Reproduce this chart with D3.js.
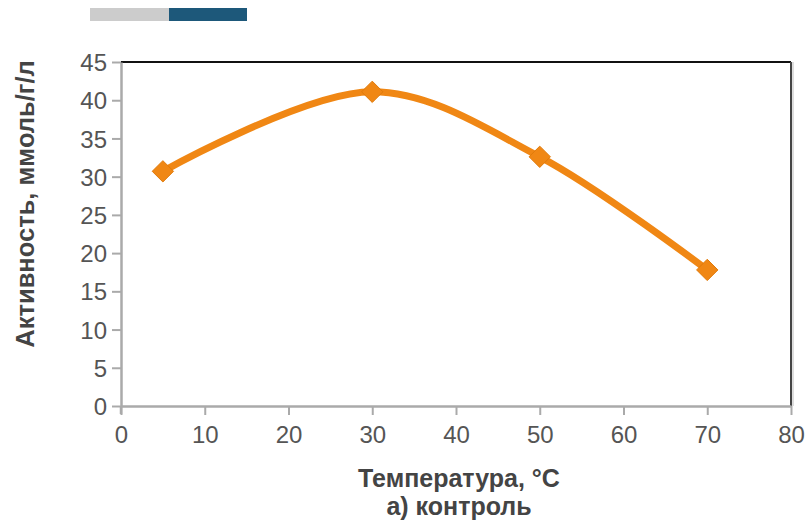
<!DOCTYPE html>
<html><head><meta charset="utf-8">
<script src="https://d3js.org/d3.v7.min.js"></script>
<style>body{margin:0;background:#fff;} svg{display:block;}</style>
</head><body>
<svg id="c" width="811" height="524"></svg>
<script>
const temps = [5, 30, 50, 70];
const activity = [30.7, 41.1, 32.6, 17.8];
const xTicks = [0, 10, 20, 30, 40, 50, 60, 70, 80];
const yTicks = [0, 5, 10, 15, 20, 25, 30, 35, 40, 45];
const xTitle = "Температура, °C";
const subTitle = "а) контроль";
const yTitle = "Активность, ммоль/г/л";

const svg = d3.select("#c");
const L = 121, R = 791, T = 62, B = 406;
const x = d3.scaleLinear().domain([0, 80]).range([L, R]);
const y = d3.scaleLinear().domain([0, 45]).range([B, T]);
const font = "'Liberation Sans', Arial, sans-serif";

// decorative top bars
svg.append("rect").attr("x", 90).attr("y", 8).attr("width", 79).attr("height", 13).attr("fill", "#cccccc");
svg.append("rect").attr("x", 169).attr("y", 8).attr("width", 78).attr("height", 13).attr("fill", "#1d587a");

// top and right borders
svg.append("line").attr("x1", L).attr("x2", R).attr("y1", T).attr("y2", T).attr("stroke", "#111").attr("stroke-width", 2);
svg.append("line").attr("x1", R).attr("x2", R).attr("y1", T).attr("y2", B).attr("stroke", "#444").attr("stroke-width", 2);
svg.append("line").attr("x1", R + 2).attr("x2", R + 2).attr("y1", T).attr("y2", B).attr("stroke", "#bbb").attr("stroke-width", 1);

// y axis
const ya = svg.append("g").attr("transform", `translate(${L},0)`)
  .call(d3.axisLeft(y).tickValues(yTicks).tickSize(9).tickPadding(5).tickSizeOuter(0));
ya.select(".domain").attr("stroke", "#aaa").attr("stroke-width", 2.5);
ya.selectAll(".tick line").attr("stroke", "#aaa").attr("stroke-width", 2);
ya.selectAll(".tick text").attr("font-family", font).attr("font-size", 24).attr("fill", "#555").attr("dy", "0.36em");
svg.append("line").attr("x1", L).attr("x2", L).attr("y1", B).attr("y2", B + 8).attr("stroke", "#aaa").attr("stroke-width", 2.5);

// x axis
const xa = svg.append("g").attr("transform", `translate(0,${B})`)
  .call(d3.axisBottom(x).tickValues(xTicks).tickSize(9).tickPadding(11).tickSizeOuter(0));
xa.select(".domain").attr("stroke", "#aaa").attr("stroke-width", 2.5);
xa.selectAll(".tick line").attr("stroke", "#aaa").attr("stroke-width", 2);
xa.selectAll(".tick text").attr("font-family", font).attr("font-size", 24).attr("fill", "#555");

// titles
svg.append("text").attr("x", 459).attr("y", 487).attr("text-anchor", "middle")
  .attr("font-family", font).attr("font-weight", "bold").attr("font-size", 25).attr("fill", "#444").text(xTitle);
svg.append("text").attr("x", 459).attr("y", 515).attr("text-anchor", "middle")
  .attr("font-family", font).attr("font-weight", "bold").attr("font-size", 25).attr("fill", "#444").text(subTitle);
svg.append("text").attr("transform", "translate(34,204) rotate(-90)").attr("text-anchor", "middle")
  .attr("font-family", font).attr("font-weight", "bold").attr("font-size", 25.5).attr("fill", "#444").text(yTitle);

// series
const data = temps.map((t, i) => ({t, v: activity[i]}));
const line = d3.line().x(d => x(d.t)).y(d => y(d.v)).curve(d3.curveCatmullRom.alpha(0.5));
svg.append("path").datum(data).attr("d", line).attr("fill", "none")
  .attr("stroke", "#f08714").attr("stroke-width", 7).attr("stroke-linejoin", "round");
svg.selectAll(".m").data(data).enter().append("path")
  .attr("transform", d => `translate(${x(d.t)},${y(d.v)})`)
  .attr("d", d3.symbol().type(d3.symbolDiamond2).size(290))
  .attr("fill", "#f08714").attr("stroke", "#e07a0a").attr("stroke-width", 1);
</script>
</body></html>
